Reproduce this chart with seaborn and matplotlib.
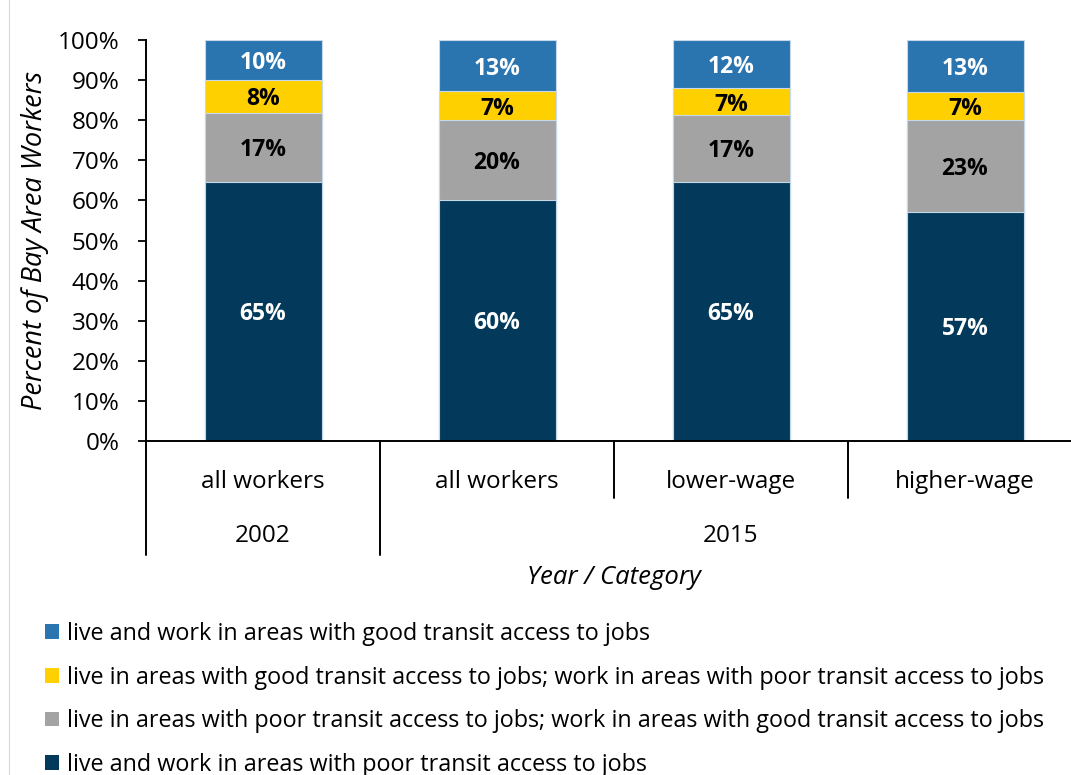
import matplotlib
matplotlib.use("Agg")
import matplotlib.pyplot as plt
import matplotlib.transforms as mtransforms
from matplotlib.patches import Patch
from matplotlib.lines import Line2D
import seaborn as sns
import pandas as pd
import numpy as np

# ---- data ----
keys = ["2002 all workers", "2015 all workers", "2015 lower-wage", "2015 higher-wage"]
categories = ["all workers", "all workers", "lower-wage", "higher-wage"]
years = ["2002", "2015"]
year_centers = [0, 2]
poor_both = [64.6, 60.2, 64.6, 57.2]
live_poor_work_good = [17.3, 19.8, 16.7, 22.8]
live_good_work_poor = [8.1, 7.2, 6.7, 7.0]
good_both = [10.0, 12.8, 12.0, 13.0]
series_names = [
    "live and work in areas with poor transit access to jobs",
    "live in areas with poor transit access to jobs; work in areas with good transit access to jobs",
    "live in areas with good transit access to jobs; work in areas with poor transit access to jobs",
    "live and work in areas with good transit access to jobs",
]
series_values = [poor_both, live_poor_work_good, live_good_work_poor, good_both]
colors = ["#033a5b", "#a3a3a3", "#ffd000", "#2a75b0"]
label_colors = ["white", "black", "black", "white"]

sns.set_theme(style="white")
plt.rcParams["font.family"] = ["Open Sans", "DejaVu Sans"]
plt.rcParams["text.color"] = "black"

W, H = 1071, 775
fig = plt.figure(figsize=(W / 100, H / 100), dpi=100)
ax_left, ax_bottom_px, ax_top_px, ax_width_px = 146, 441, 40, 936
ax = fig.add_axes([ax_left / W, 1 - ax_bottom_px / H, ax_width_px / W, (ax_bottom_px - ax_top_px) / H])

cum = np.cumsum(np.array(series_values), axis=0)
df = pd.DataFrame({"key": keys})
# draw stacked bars from the top down (each total overlays the one below)
for i in range(len(series_values) - 1, -1, -1):
    df["total"] = cum[i]
    sns.barplot(data=df, x="key", y="total", order=keys, color=colors[i], width=0.5,
                edgecolor="#c6d9ea", linewidth=0.8, saturation=1, ax=ax)

# segment labels
for i, vals in enumerate(series_values):
    bottoms = cum[i] - np.array(vals)
    for j, v in enumerate(vals):
        ax.text(j, bottoms[j] + v / 2, f"{v:.0f}%", ha="center", va="center_baseline",
                color=label_colors[i], fontsize=16.5, fontweight="bold")

ax.set_ylim(0, 100)
ax.set_xlim(-0.5, 3.5)
ax.set_yticks(range(0, 101, 10))
ax.set_yticklabels([f"{t}%" for t in range(0, 101, 10)], fontsize=17.5, color="black")
ax.set_xticks(range(len(keys)))
ax.set_xticklabels(categories, fontsize=17.5, color="black")
ax.tick_params(axis="x", length=0, pad=21)
ax.tick_params(axis="y", length=6, width=1.3, direction="out", pad=13, left=True, color="black")
ax.set_xlabel("")
ax.set_ylabel("")
for s in ["top", "right"]:
    ax.spines[s].set_visible(False)
for s in ["left", "bottom"]:
    ax.spines[s].set_color("black")
    ax.spines[s].set_linewidth(1.4)

# category group dividers below the axis
trans = mtransforms.blended_transform_factory(ax.transData, ax.transAxes)
axh = ax_bottom_px - ax_top_px
long_y = (ax_bottom_px - 555) / axh
short_y = (ax_bottom_px - 498) / axh
for xpos, yend in [(-0.5, long_y), (0.5, long_y), (1.5, short_y), (2.5, short_y)]:
    ax.add_line(Line2D([xpos, xpos], [0, yend], transform=trans, color="black",
                       linewidth=1.4, clip_on=False))
year_y = (ax_bottom_px - 536) / axh
for yr, xc in zip(years, year_centers):
    ax.text(xc, year_y, yr, transform=trans, ha="center", va="center", fontsize=17.5, color="black")

# axis titles
fig.text(614 / W, 1 - 578 / H, "Year / Category", ha="center", va="center",
         fontsize=18.5, style="italic", color="black")
fig.text(35 / W, 1 - 240 / H, "Percent of Bay Area Workers", ha="center", va="center",
         rotation=90, fontsize=19.5, style="italic", color="black")

# legend (top entry first)
order = [3, 2, 1, 0]
handles = [Patch(facecolor=colors[i], edgecolor="none") for i in order]
labels = [series_names[i] for i in order]
fig.legend(handles, labels, loc="upper left", bbox_to_anchor=(45 / W, 1 - 622 / H),
           frameon=False, fontsize=16.8, handlelength=0.6, handleheight=0.6,
           handletextpad=0.35, labelspacing=0.84, borderaxespad=0, borderpad=0,
           labelcolor="black")

# faint chart border at left
fig.add_artist(Line2D([9 / W, 9 / W], [0, 1], transform=fig.transFigure, color="#d9d9d9", linewidth=0.8))

fig.savefig("out.png", dpi=100)
